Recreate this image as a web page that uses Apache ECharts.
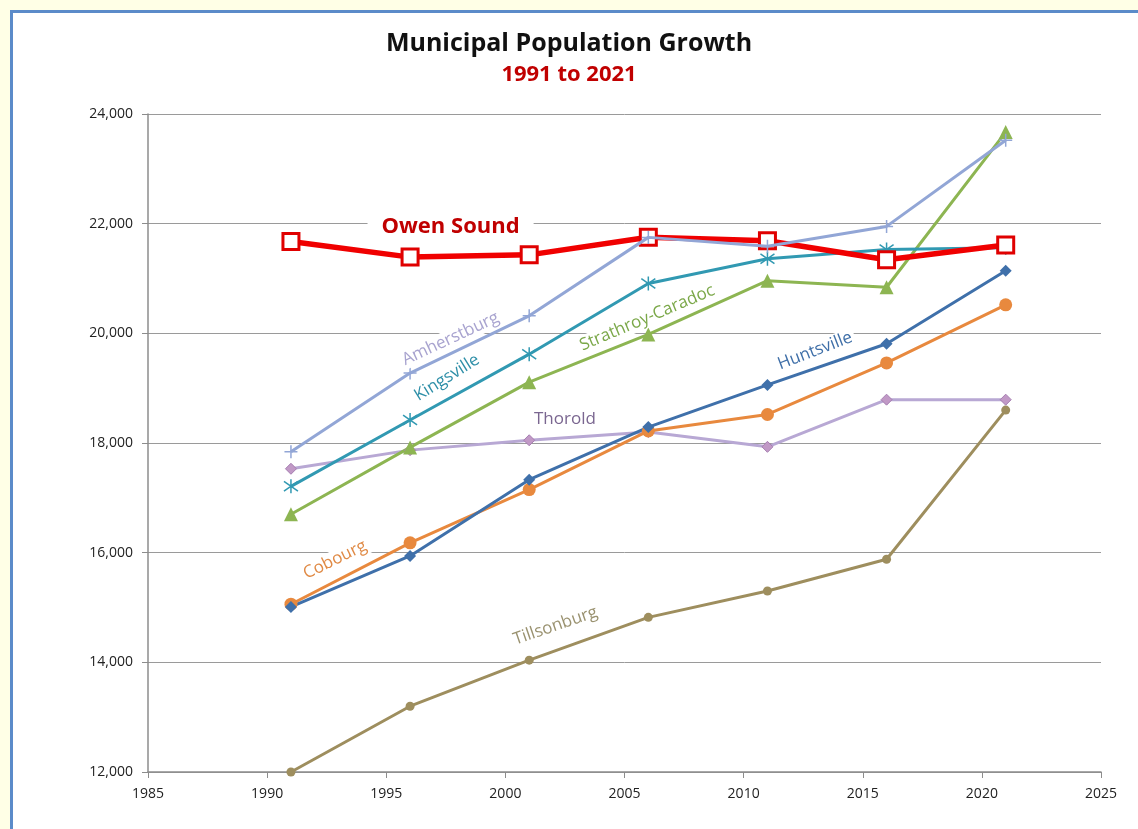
<!DOCTYPE html>
<html>
<head>
<meta charset="utf-8">
<script src="https://cdn.jsdelivr.net/npm/echarts@6/dist/echarts.min.js"></script>
<style>
  html, body { margin: 0; padding: 0; width: 1138px; height: 829px; overflow: hidden; background: #FFFFE6; font-family: "Open Sans", Lato, sans-serif; }
  #frame { position: absolute; left: 10px; top: 10px; width: 1200px; height: 900px; background: #ffffff; border: 3px solid #5B8BC9; box-sizing: border-box; }
  #chart { position: absolute; left: 0; top: 0; width: 1138px; height: 829px; }
</style>
</head>
<body>
<div id="frame"></div>
<div id="chart"></div>
<script>
// Census years
const years = [1991, 1996, 2001, 2006, 2011, 2016, 2021];

// Population by municipality
const owenSound    = [21674, 21390, 21431, 21753, 21688, 21341, 21612];
const amherstburg  = [17840, 19275, 20320, 21750, 21590, 21950, 23520];
const kingsville   = [17210, 18420, 19620, 20910, 21360, 21530, 21560];
const strathroy    = [16700, 17920, 19110, 19980, 20960, 20840, 23670];
const huntsville   = [15010, 15940, 17330, 18290, 19060, 19810, 21140];
const cobourg      = [15060, 16180, 17150, 18220, 18520, 19460, 20520];
const thorold      = [17530, 17870, 18050, 18200, 17930, 18790, 18790];
const tillsonburg  = [12000, 13200, 14040, 14820, 15300, 15880, 18600];

// Axis settings
const yTicks = { min: 12000, max: 24000, step: 2000 };
const xTicks = { min: 1985, max: 2025, step: 5 };

// In-plot name labels: [year, population] anchor and slope angle in degrees
const nameLabels = {
  'Owen Sound':        { at: [1997.7, 21940], angle: 0 },
  'Amherstburg':       { at: [1997.7, 19900], angle: 25 },
  'Kingsville':        { at: [1997.55, 19190], angle: 32 },
  'Strathroy-Caradoc': { at: [2005.95, 20280], angle: 23 },
  'Huntsville':        { at: [2013.0, 19680], angle: 21 },
  'Thorold':           { at: [2002.5, 18440], angle: 0 },
  'Cobourg':           { at: [1992.85, 15870], angle: 26 },
  'Tillsonburg':       { at: [2002.1, 14665], angle: 19 }
};

const FONT = '"Open Sans", Lato, sans-serif';
const plus = 'path://M0,-10L0,10M-10,0L10,0';
const star = 'path://M0,-10L0,10M-8,-7L8,7M-8,7L8,-7';

function pairs(vals) { return years.map((y, i) => [y, vals[i]]); }

function makeSeries(name, vals, opt) {
  const lab = nameLabels[name];
  return {
    name: name,
    type: 'line',
    data: pairs(vals),
    z: opt.z || 2,
    symbol: opt.symbol,
    symbolSize: opt.size,
    showAllSymbol: true,
    lineStyle: { color: opt.line, width: opt.width || 3 },
    itemStyle: {
      color: opt.fill || opt.line,
      borderColor: opt.border || opt.fill || opt.line,
      borderWidth: opt.borderWidth || 0
    },
    emphasis: { disabled: true },
    markPoint: {
      silent: true,
      symbol: 'circle',
      symbolSize: 1,
      itemStyle: { color: 'rgba(0,0,0,0)' },
      data: [{ coord: lab.at }],
      label: {
        show: true,
        position: 'inside',
        formatter: name,
        rotate: lab.angle,
        color: opt.text,
        fontFamily: FONT,
        fontSize: opt.textSize || 17,
        fontWeight: opt.textWeight || 'normal',
        backgroundColor: '#ffffff',
        padding: opt.textPad || [1, 3]
      }
    }
  };
}

const series = [
  makeSeries('Tillsonburg', tillsonburg, { symbol: 'circle', size: 9, line: '#9E8E5E', text: '#9A9270' }),
  makeSeries('Thorold', thorold, { symbol: 'diamond', size: 11, line: '#B8A8D4', fill: '#C199C6', border: '#A57DB0', borderWidth: 1, text: '#7A6690' }),
  makeSeries('Cobourg', cobourg, { symbol: 'circle', size: 13, line: '#E8893E', text: '#E08A45' }),
  makeSeries('Huntsville', huntsville, { symbol: 'diamond', size: 12, line: '#3F70AA', text: '#3F6FA8' }),
  makeSeries('Strathroy-Caradoc', strathroy, { symbol: 'triangle', size: 14, line: '#8DB552', text: '#7BA849' }),
  makeSeries('Kingsville', kingsville, { symbol: star, size: 14, line: '#3199B2', border: '#3199B2', borderWidth: 1.5, text: '#2E8FA8' }),
  makeSeries('Owen Sound', owenSound, { symbol: 'rect', size: 16, line: '#F00000', width: 5.5, fill: '#ffffff', border: '#E00000', borderWidth: 3, text: '#C00000', textSize: 22, textWeight: 'bold', textPad: [2, 14], z: 3 }),
  makeSeries('Amherstburg', amherstburg, { symbol: plus, size: 13, line: '#92A6D6', border: '#92A6D6', borderWidth: 1.5, text: '#A8A3CF', z: 4 })
];

const chart = echarts.init(document.getElementById('chart'), null, { renderer: 'canvas' });
chart.setOption({
  animation: false,
  backgroundColor: 'transparent',
  title: {
    text: 'Municipal Population Growth',
    subtext: '1991 to 2021',
    left: 'center',
    top: 26,
    itemGap: 8,
    textStyle: { fontFamily: FONT, fontSize: 25, fontWeight: 'bold', color: '#111111' },
    subtextStyle: { fontFamily: FONT, fontSize: 22, fontWeight: 'bold', color: '#C00000' }
  },
  grid: { left: 148, right: 37, top: 114, bottom: 57, containLabel: false },
  xAxis: {
    type: 'value',
    min: xTicks.min, max: xTicks.max, interval: xTicks.step,
    axisLine: { show: true, lineStyle: { color: '#8C8C8C', width: 1.5 } },
    axisTick: { show: true, inside: false, length: 6, lineStyle: { color: '#8C8C8C', width: 1 } },
    axisLabel: { color: '#222', fontSize: 14, margin: 15, fontFamily: FONT, formatter: v => String(v) },
    splitLine: { show: false }
  },
  yAxis: {
    type: 'value',
    min: yTicks.min, max: yTicks.max, interval: yTicks.step,
    axisLine: { show: true, lineStyle: { color: '#8C8C8C', width: 1.5 } },
    axisTick: { show: true, inside: false, length: 6, lineStyle: { color: '#8C8C8C', width: 1 } },
    axisLabel: { color: '#222', fontSize: 14, margin: 15, fontFamily: FONT, formatter: v => v.toLocaleString('en-US') },
    splitLine: { show: true, lineStyle: { color: '#9A9A9A', width: 1 } }
  },
  series: series
});
</script>
</body>
</html>
